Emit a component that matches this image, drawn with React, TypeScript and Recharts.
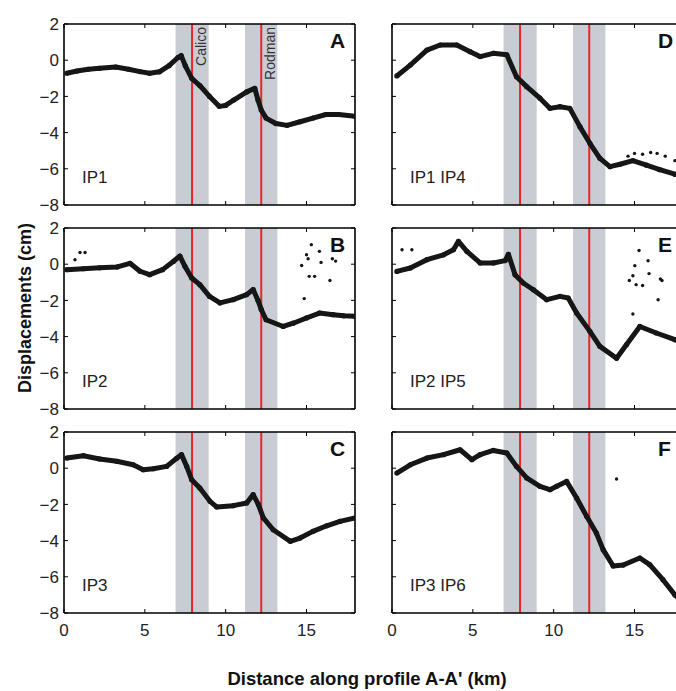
import { ReferenceArea, ReferenceLine, Scatter, ScatterChart, XAxis, YAxis } from "recharts";

type Pt = [number, number];

// distance along profile (km), displacement (cm)
const xTicks = [0, 5, 10, 15];
const yTicks = [-8, -6, -4, -2, 0, 2];
const calicoZone: Pt = [6.9, 8.95];
const rodmanZone: Pt = [11.2, 13.2];
const calicoFault = 7.92;
const rodmanFault = 12.2;

const traceA: Pt[] = [
  [0.17, -0.72], [0.8, -0.6], [1.5, -0.5], [2.2, -0.45], [3.2, -0.38], [4.0, -0.5],
  [4.7, -0.63], [5.3, -0.72], [5.9, -0.64], [6.5, -0.3], [7.05, 0.15], [7.25, 0.25],
  [7.5, -0.3], [7.9, -1.0], [8.4, -1.4], [9.0, -2.0], [9.6, -2.55], [10.0, -2.5],
  [10.5, -2.2], [11.3, -1.75], [11.8, -1.55], [12.0, -2.2], [12.2, -2.75], [12.5, -3.2],
  [13.1, -3.5], [13.8, -3.6], [14.6, -3.4], [15.4, -3.2], [16.2, -3.0], [17.0, -3.0], [18, -3.1],
];

const traceB: Pt[] = [
  [0.17, -0.3], [1.2, -0.25], [2.2, -0.2], [3.3, -0.15], [4.08, 0.05], [4.7, -0.39],
  [5.3, -0.58], [6.1, -0.3], [6.76, 0.15], [7.17, 0.45], [7.48, -0.12], [7.9, -0.76],
  [8.4, -1.13], [9.0, -1.78], [9.65, -2.14], [10.47, -1.96], [11.3, -1.68], [11.7, -1.4],
  [12.0, -2.0], [12.2, -2.5], [12.5, -3.07], [13.56, -3.44], [14.18, -3.26], [15.0, -2.97],
  [15.8, -2.7], [16.65, -2.79], [17.3, -2.85], [18, -2.88],
];
const strayB: Pt[] = [
  [0.68, 0.25], [0.99, 0.65], [1.3, 0.65], [14.7, -0.07], [14.86, -1.9], [15.0, 0.52],
  [15.1, 0.3], [15.17, -0.67], [15.3, 1.08], [15.5, -0.67], [15.8, 0.71], [15.9, 0.1],
  [16.45, -0.9], [16.6, 0.3], [16.8, 0.17],
];

const traceC: Pt[] = [
  [0.17, 0.56], [1.2, 0.69], [2.2, 0.51], [3.26, 0.38], [4.28, 0.19], [4.9, -0.08],
  [5.52, -0.03], [6.35, 0.1], [6.97, 0.55], [7.27, 0.75], [7.59, 0.1], [7.9, -0.64],
  [8.4, -1.09], [9.03, -1.83], [9.44, -2.14], [10.47, -2.07], [11.3, -1.92], [11.7, -1.46],
  [12.02, -2.0], [12.33, -2.75], [12.94, -3.4], [14.0, -4.04], [14.6, -3.86], [15.4, -3.49],
  [16.25, -3.18], [17.07, -2.94], [18, -2.75],
];

const traceD: Pt[] = [
  [0.3, -0.87], [1.13, -0.27], [2.16, 0.56], [2.98, 0.84], [4.01, 0.84], [4.83, 0.47],
  [5.45, 0.2], [6.27, 0.38], [7.1, 0.3], [7.7, -0.91], [8.33, -1.46], [9.15, -2.1],
  [9.77, -2.66], [10.39, -2.57], [11.0, -2.66], [11.62, -3.67], [12.24, -4.59], [12.86, -5.42],
  [13.48, -5.88], [14.1, -5.75], [14.9, -5.55], [15.74, -5.8], [16.56, -6.05], [17.49, -6.3], [18, -6.4],
];
const strayD: Pt[] = [
  [14.6, -5.3], [15.0, -5.15], [15.5, -5.2], [16.0, -5.1], [16.4, -5.15], [16.9, -5.3], [17.5, -5.55],
];

const traceE: Pt[] = [
  [0.3, -0.4], [1.13, -0.21], [2.16, 0.25], [3.19, 0.52], [3.8, 0.8], [4.11, 1.26],
  [4.63, 0.71], [5.45, 0.07], [6.27, 0.07], [7.0, 0.2], [7.2, 0.55], [7.61, -0.58],
  [8.12, -1.04], [8.74, -1.41], [9.57, -1.96], [10.39, -1.78], [10.9, -1.87], [11.42, -2.7],
  [12.24, -3.71], [12.86, -4.54], [13.89, -5.2], [14.5, -4.45], [15.33, -3.44], [16.35, -3.8],
  [17.5, -4.17], [18, -4.35],
];
const strayE: Pt[] = [
  [0.62, 0.8], [1.23, 0.8], [14.68, -0.9], [14.9, -0.64], [14.9, -2.75], [15.02, -0.08],
  [15.1, -1.13], [15.28, 0.76], [15.5, -1.18], [15.84, 0.19], [15.9, -0.52], [16.46, -1.96],
  [16.6, -0.82], [16.7, -0.9],
];

const traceF: Pt[] = [
  [0.3, -0.27], [1.13, 0.19], [2.16, 0.56], [3.19, 0.75], [4.21, 1.02], [4.94, 0.47],
  [5.45, 0.75], [6.27, 0.98], [7.1, 0.84], [7.7, 0.1], [8.33, -0.54], [9.15, -1.0],
  [9.77, -1.19], [10.19, -1.0], [10.8, -0.73], [11.42, -1.65], [12.04, -2.66], [12.65, -3.6],
  [13.06, -4.5], [13.68, -5.4], [14.3, -5.35], [15.33, -4.96], [15.94, -5.33], [16.76, -6.16],
  [17.5, -7.0], [18, -7.4],
];
const strayF: Pt[] = [[13.89, -0.6]];

const panels = [
  { letter: "A", tag: "IP1", trace: traceA, stray: [] as Pt[], col: 0, row: 0 },
  { letter: "B", tag: "IP2", trace: traceB, stray: strayB, col: 0, row: 1 },
  { letter: "C", tag: "IP3", trace: traceC, stray: [] as Pt[], col: 0, row: 2 },
  { letter: "D", tag: "IP1 IP4", trace: traceD, stray: strayD, col: 1, row: 0 },
  { letter: "E", tag: "IP2 IP5", trace: traceE, stray: strayE, col: 1, row: 1 },
  { letter: "F", tag: "IP3 IP6", trace: traceF, stray: strayF, col: 1, row: 2 },
];

const INK = "#161616";
const FONT = "'Liberation Sans', Arial, Helvetica, sans-serif";
const PLOT_W = 291;
const PLOT_H = 181;
const TICK = 4;
const plotLeft = [64, 392];
const plotTop = [24.3, 228.3, 432.3];

const rows = (pts: Pt[]) => pts.map(([x, y]) => ({ x, y }));
const fmt = (v: number) => (v < 0 ? `\u2212${-v}` : `${v}`);

function XTick(props: any) {
  const { x, y, payload, showLabel } = props;
  return (
    <g>
      <line x1={x} x2={x} y1={y} y2={y - TICK} stroke="#000" />
      <line x1={x} x2={x} y1={y - PLOT_H} y2={y - PLOT_H + TICK} stroke="#000" />
      {showLabel && (
        <text x={x} y={y + 23} textAnchor="middle" fontSize={17} fill="#222" fontFamily={FONT}>
          {payload.value}
        </text>
      )}
    </g>
  );
}

function YTick(props: any) {
  const { x, y, payload, showLabel } = props;
  return (
    <g>
      <line x1={x} x2={x + TICK} y1={y} y2={y} stroke="#000" />
      <line x1={x + PLOT_W} x2={x + PLOT_W - TICK} y1={y} y2={y} stroke="#000" />
      {showLabel && (
        <text x={x - 5} y={y} dy="0.36em" textAnchor="end" fontSize={17} fill="#222" fontFamily={FONT}>
          {fmt(payload.value)}
        </text>
      )}
    </g>
  );
}

function FaultLabel(props: any) {
  const { viewBox, text } = props;
  if (!viewBox) return null;
  const x = viewBox.x + 14;
  const y = viewBox.y + 3;
  return (
    <text x={x} y={y} transform={`rotate(-90 ${x} ${y})`} textAnchor="end" fontSize={14} fill="#333" fontFamily={FONT}>
      {text}
    </text>
  );
}

function Panel({ trace, stray, col, row }: { trace: Pt[]; stray: Pt[]; col: number; row: number }) {
  const named = col === 0 && row === 0;
  return (
    <div style={{ position: "absolute", left: plotLeft[col] - 64, top: plotTop[row] - 10 }}>
      <ScatterChart width={365} height={231} margin={{ top: 10, right: 10, bottom: 0, left: 14 }}>
        <XAxis
          type="number"
          dataKey="x"
          domain={[0, 18]}
          ticks={xTicks}
          interval={0}
          allowDataOverflow
          height={40}
          tickSize={0}
          tickMargin={0}
          tickLine={false}
          axisLine={{ stroke: "#000", strokeWidth: 1.6 }}
          tick={(p: any) => <XTick {...p} showLabel={row === 2} />}
        />
        <YAxis
          type="number"
          dataKey="y"
          domain={[-8, 2]}
          ticks={yTicks}
          interval={0}
          allowDataOverflow
          width={50}
          tickSize={0}
          tickMargin={0}
          tickLine={false}
          axisLine={{ stroke: "#000", strokeWidth: 1.6 }}
          tick={(p: any) => <YTick {...p} showLabel={col === 0} />}
        />
        <ReferenceArea x1={calicoZone[0]} x2={calicoZone[1]} y1={-8} y2={2} fill="#c9ccd3" fillOpacity={1} stroke="none" />
        <ReferenceArea x1={rodmanZone[0]} x2={rodmanZone[1]} y1={-8} y2={2} fill="#c9ccd3" fillOpacity={1} stroke="none" />
        <ReferenceLine
          x={calicoFault}
          stroke="#e8262b"
          strokeWidth={2}
          label={named ? <FaultLabel text="Calico" /> : undefined}
        />
        <ReferenceLine
          x={rodmanFault}
          stroke="#e8262b"
          strokeWidth={2}
          label={named ? <FaultLabel text="Rodman" /> : undefined}
        />
        <Scatter
          data={rows(trace)}
          fill={INK}
          line={{ stroke: INK, strokeWidth: 5, strokeLinejoin: "round" }}
          shape={(p: any) => <circle cx={p.cx} cy={p.cy} r={2.6} fill={INK} />}
          isAnimationActive={false}
        />
        <Scatter
          data={rows(stray)}
          fill={INK}
          shape={(p: any) => <circle cx={p.cx} cy={p.cy} r={1.7} fill={INK} />}
          isAnimationActive={false}
        />
        <ReferenceLine y={2} stroke="#000" strokeWidth={1.6} />
        <ReferenceLine x={18} stroke="#000" strokeWidth={1.6} />
      </ScatterChart>
    </div>
  );
}

export default function App() {
  return (
    <div
      style={{
        position: "absolute",
        left: 0,
        top: 0,
        width: 676,
        height: 691,
        overflow: "hidden",
        background: "#fff",
      }}
    >
      {panels.map((p) => (
        <Panel key={p.letter} trace={p.trace} stray={p.stray} col={p.col} row={p.row} />
      ))}
      <svg width={676} height={691} style={{ position: "absolute", left: 0, top: 0, pointerEvents: "none" }}>
        {panels.map((p) => (
          <g key={p.letter} fontFamily={FONT}>
            <text x={plotLeft[p.col] + 266} y={plotTop[p.row] + 24} fontSize={21} fontWeight="bold" fill="#111">
              {p.letter}
            </text>
            <text x={plotLeft[p.col] + 18} y={plotTop[p.row] + 159} fontSize={17} fill="#222">
              {p.tag}
            </text>
          </g>
        ))}
        <text
          x={31}
          y={308}
          transform="rotate(-90 31 308)"
          textAnchor="middle"
          fontSize={18}
          fontWeight="bold"
          fill="#111"
          fontFamily={FONT}
        >
          Displacements (cm)
        </text>
        <text x={367} y={685} textAnchor="middle" fontSize={18.5} fontWeight="bold" fill="#111" fontFamily={FONT}>
          Distance along profile A-A' (km)
        </text>
      </svg>
    </div>
  );
}
